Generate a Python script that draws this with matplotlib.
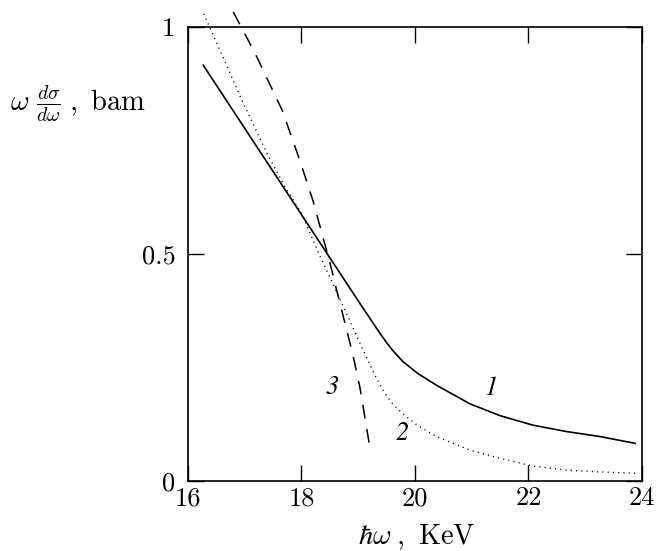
import matplotlib
matplotlib.use("Agg")
import matplotlib.pyplot as plt
import numpy as np

plt.rcParams['font.family'] = 'serif'
plt.rcParams['font.serif'] = ['cmr10']
plt.rcParams['mathtext.fontset'] = 'cm'

# curve 1 (solid)
x1 = [16.27, 17.0, 18.0, 19.0, 19.38, 19.5, 19.62, 19.79, 20.05, 20.38, 20.97, 21.5, 22.08, 22.67, 23.26, 23.88]
y1 = [0.916, 0.777, 0.587, 0.397, 0.326, 0.305, 0.286, 0.263, 0.237, 0.211, 0.170, 0.144, 0.123, 0.109, 0.098, 0.083]
# curve 2 (dotted)
x2 = [16.28, 16.95, 17.4, 17.7, 18.0, 18.33, 18.74, 19.1, 19.3, 19.46, 19.62, 19.79, 20.05, 20.38, 20.97, 21.5, 22.08, 22.67, 23.26, 23.88]
y2 = [1.029, 0.839, 0.720, 0.650, 0.590, 0.495, 0.384, 0.285, 0.232, 0.195, 0.168, 0.148, 0.122, 0.098, 0.068, 0.050, 0.033, 0.024, 0.020, 0.017]
# curve 3 (dashed)
x3 = [16.8, 17.18, 17.66, 17.97, 18.21, 18.36, 18.5, 18.62, 18.9, 19.03, 19.22]
y3 = [1.033, 0.943, 0.817, 0.707, 0.615, 0.546, 0.482, 0.421, 0.282, 0.207, 0.064]

xticks = [16, 18, 20, 22, 24]
yticks = [0, 0.5, 1]
xtick_labels = ['16', '18', '20', '22', '24']
ytick_labels = ['0', '0.5', '1']

fig = plt.figure(figsize=(6.57, 5.51), dpi=100)
ax = fig.add_axes([0.286, 0.127, 0.691, 0.824])

ax.plot(x1, y1, 'k-', lw=1.2, clip_on=False)
ax.plot(x2, y2, color='k', lw=1.0, linestyle=(0, (0.8, 3.0)), clip_on=False)
ax.plot(x3, y3, color='k', lw=1.1, linestyle=(0, (9, 7)), clip_on=False)

ax.set_xlim(16, 24)
ax.set_ylim(0, 1)
ax.set_xticks(xticks)
ax.set_xticklabels(xtick_labels)
ax.set_yticks(yticks)
ax.set_yticklabels(ytick_labels)
ax.tick_params(direction='in', length=11.5, width=1.0, top=True, right=True,
               labelsize=19)
ax.tick_params(axis='x', pad=4)
ax.tick_params(axis='y', pad=9)
for s in ax.spines.values():
    s.set_linewidth(1.2)

# curve numbers
for lx, ly, lab in [(21.35, 0.204, '1'), (19.77, 0.105, '2'), (18.55, 0.205, '3')]:
    ax.text(lx, ly, lab, fontsize=19, ha='center', va='center',
            family='STIXGeneral', style='italic')

fig.text(0.015, 0.80, '$\\omega\\ \\frac{d\\sigma}{d\\omega}\\;,\\ \\mathrm{bam}$',
         fontsize=20.5, ha='left', va='baseline')
fig.text(0.634, 0.012, '$\\hbar\\omega\\;,\\ \\mathrm{KeV}$', fontsize=20.5,
         ha='center', va='baseline')

fig.savefig('out.png', dpi=100)
